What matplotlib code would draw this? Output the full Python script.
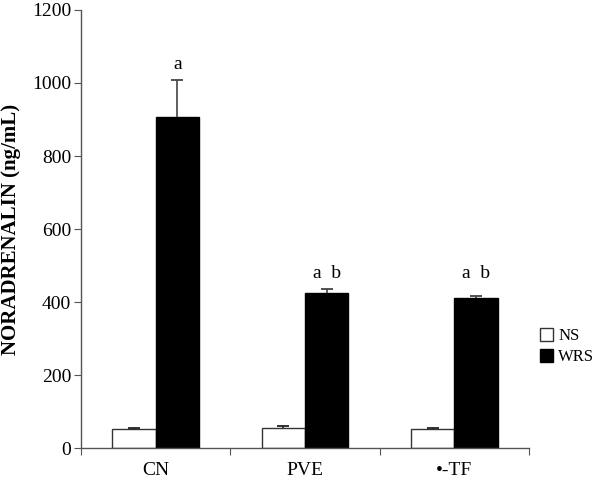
import matplotlib
matplotlib.use("Agg")
import matplotlib.pyplot as plt
import numpy as np
from matplotlib.patches import Patch

categories = ["CN", "PVE", "\u2022-TF"]
ns_values = [52, 56, 52]
ns_err = [3, 4, 3]
wrs_values = [907, 426, 411]
wrs_err = [100, 10, 6]
wrs_labels = ["a", "a  b", "a  b"]
wrs_label_y = [1028, 456, 456]
yticks = [0, 200, 400, 600, 800, 1000, 1200]

plt.rcParams['font.family'] = ['Liberation Serif', 'DejaVu Serif']

fig = plt.figure(figsize=(6.0, 4.87), dpi=100)
ax = fig.add_axes([0.135, 0.080, 0.7467, 0.8995])

x = np.arange(len(categories))
w = 0.29
axis_col = '#555555'
ax.bar(x - w/2, ns_values, w, color='white', edgecolor='#333333', linewidth=1.0)
ax.bar(x + w/2, wrs_values, w, color='black', edgecolor='black', linewidth=1.0)

def draw_err(xs, vals, errs, col):
    xs = np.asarray(xs); vals = np.asarray(vals); errs = np.asarray(errs)
    ax.vlines(xs, vals, vals + errs, color=col, linewidth=1.2, zorder=3)
    ax.plot(xs, vals + errs, linestyle='none', marker='_', markersize=9,
            markeredgewidth=1.3, color=col, zorder=3)

draw_err(x - w/2, ns_values, ns_err, '#222222')
draw_err(x + w/2, wrs_values, wrs_err, '#444444')

for xi, ly, lab in zip(x, wrs_label_y, wrs_labels):
    ax.text(xi + w/2, ly, lab, ha='center', va='bottom', fontsize=14)

ax.set_xlim(-0.5, 2.5)
ax.set_ylim(0, 1200)
ax.set_yticks(yticks)
ax.set_yticklabels([str(t) for t in yticks], fontsize=14)
ax.set_xticks([-0.5, 0.5, 1.5, 2.5])
ax.set_xticklabels([])
ax.set_xticks(x, minor=True)
ax.set_xticklabels(categories, minor=True, fontsize=14)
ax.tick_params(axis='x', which='minor', length=0, pad=10)
ax.tick_params(axis='x', which='major', length=5, color=axis_col, direction='out')
ax.tick_params(axis='y', length=5, color=axis_col, direction='out', pad=2)

for s in ['top', 'right']:
    ax.spines[s].set_visible(False)
for s in ['left', 'bottom']:
    ax.spines[s].set_color(axis_col)
    ax.spines[s].set_linewidth(1.0)

ax.set_ylabel("NORADRENALIN (ng/mL)", fontsize=15, fontweight='bold', labelpad=8)

handles = [Patch(facecolor='white', edgecolor='#333333', linewidth=1.0, label='NS'),
           Patch(facecolor='black', edgecolor='black', label='WRS')]
fig.legend(handles=handles, loc='center left', bbox_to_anchor=(0.875, 0.288),
           frameon=False, fontsize=12, handlelength=0.8, handleheight=0.8,
           handletextpad=0.3, labelspacing=0.3)

fig.savefig("out.png", dpi=100)
